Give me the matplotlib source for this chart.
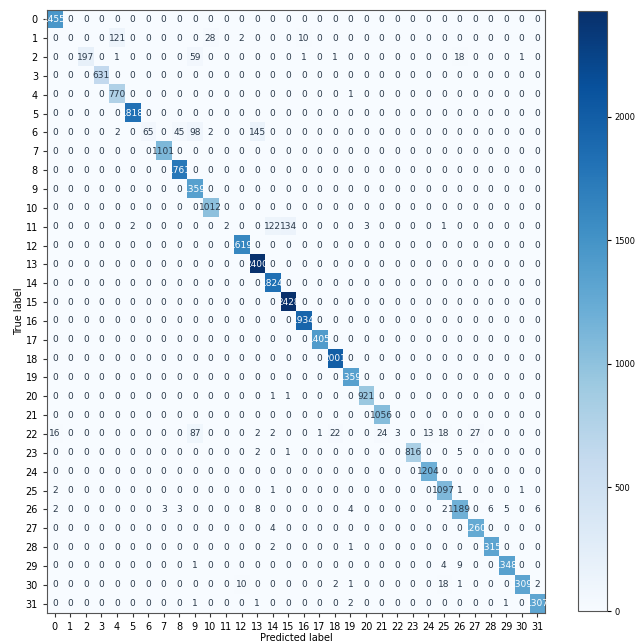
import matplotlib
matplotlib.use("Agg")
import matplotlib.pyplot as plt
import numpy as np

n_classes = 32
class_labels = [str(i) for i in range(n_classes)]

# diagonal (correct predictions) per true label
diag_counts = [1455, 0, 197, 631, 770, 1818, 0, 1101, 1761, 1359, 1012, 0, 1619, 2400, 1824, 2428,
               1934, 1405, 2001, 1359, 921, 1056, 0, 816, 1204, 1097, 1189, 1260, 1315, 1348, 1309, 1307]

# off-diagonal entries: (true, predicted, count)
off_diag = [
    (1, 4, 121), (1, 10, 28), (1, 12, 2), (1, 16, 10),
    (2, 4, 1), (2, 9, 59), (2, 16, 1), (2, 18, 1), (2, 26, 18), (2, 30, 1),
    (4, 19, 1),
    (6, 4, 2), (6, 6, 65), (6, 8, 45), (6, 9, 98), (6, 10, 2), (6, 13, 145),
    (11, 5, 2), (11, 11, 2), (11, 14, 122), (11, 15, 134), (11, 20, 3), (11, 25, 1),
    (20, 14, 1), (20, 15, 1),
    (22, 0, 16), (22, 9, 87), (22, 13, 2), (22, 14, 2), (22, 17, 1), (22, 18, 22),
    (22, 21, 24), (22, 22, 3), (22, 24, 13), (22, 25, 18), (22, 27, 27),
    (23, 13, 2), (23, 15, 1), (23, 26, 5),
    (25, 0, 2), (25, 14, 1), (25, 26, 1), (25, 30, 1),
    (26, 0, 2), (26, 7, 3), (26, 8, 3), (26, 13, 8), (26, 19, 4), (26, 25, 2),
    (26, 28, 6), (26, 29, 5), (26, 31, 6),
    (27, 14, 4),
    (28, 14, 2), (28, 19, 1),
    (29, 9, 1), (29, 25, 4), (29, 26, 9),
    (30, 12, 10), (30, 18, 2), (30, 19, 1), (30, 25, 18), (30, 26, 1), (30, 31, 2),
    (31, 9, 1), (31, 13, 1), (31, 19, 2), (31, 29, 1),
]

cm = np.diag(diag_counts).astype(int)
for t, p, c in off_diag:
    cm[t, p] = c

fig = plt.figure(figsize=(6.37, 6.44), dpi=100)
fig.patch.set_facecolor('white')
ax = fig.add_axes([0.0738, 0.0481, 0.7818, 0.9364])
cax = fig.add_axes([0.907, 0.0512, 0.046, 0.9317])

im = ax.imshow(cm, interpolation='nearest', cmap=plt.cm.Blues, aspect='auto')
cb = fig.colorbar(im, cax=cax)
cb.ax.tick_params(labelsize=6, length=3, pad=2)
cb.outline.set_edgecolor('#555555')

ax.set_xticks(np.arange(n_classes))
ax.set_yticks(np.arange(n_classes))
ax.set_xticklabels(class_labels)
ax.set_yticklabels(class_labels)
ax.tick_params(labelsize=7, length=3, color='#333333')

thresh = cm.max() / 2.
for i in range(n_classes):
    for j in range(n_classes):
        ax.text(j, i, format(cm[i, j], 'd'), ha='center', va='center', fontsize=6.5,
                color='white' if cm[i, j] > thresh else '#2b3a4a')

ax.set_ylabel('True label', fontsize=7, labelpad=1)
ax.set_xlabel('Predicted label', fontsize=7, labelpad=1)
for s in ax.spines.values():
    s.set_edgecolor('#555555')

plt.savefig('out.png', dpi=100)
